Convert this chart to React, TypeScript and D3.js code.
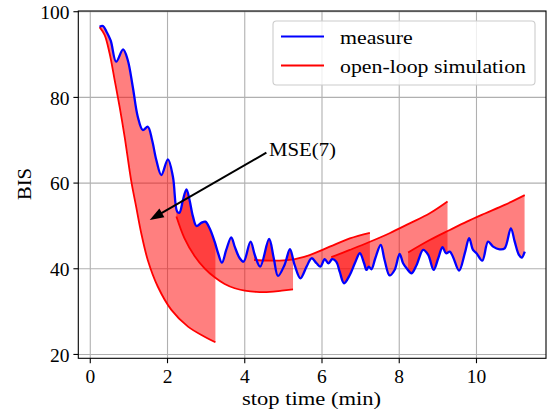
import React from "react";
import * as d3 from "d3";

const W = 551;
const H = 417;

const xTicks = [0, 2, 4, 6, 8, 10];
const yTicks = [20, 40, 60, 80, 100];

const measureTime = [0.24, 0.33, 0.42, 0.53, 0.67, 0.85, 0.97, 1.1, 1.23, 1.36, 1.49, 1.6, 1.71, 1.84, 2.01, 2.14, 2.25, 2.31, 2.4, 2.49, 2.57, 2.66, 2.75, 2.88, 2.98, 3.09, 3.22, 3.31, 3.41, 3.52, 3.65, 3.74, 3.87, 3.97, 4.15, 4.26, 4.4, 4.63, 4.75, 4.86, 5.03, 5.17, 5.29, 5.44, 5.6, 5.73, 5.86, 5.96, 6.07, 6.17, 6.26, 6.37, 6.46, 6.57, 6.72, 6.85, 6.98, 7.09, 7.15, 7.21, 7.28, 7.38, 7.52, 7.62, 7.75, 7.88, 8.01, 8.1, 8.19, 8.32, 8.45, 8.62, 8.75, 8.89, 9.01, 9.12, 9.21, 9.31, 9.39, 9.55, 9.7, 9.81, 9.91, 10.0, 10.15, 10.3, 10.43, 10.6, 10.73, 10.89, 10.99, 11.1, 11.17, 11.25];
const measureBIS = [96.5, 96.66, 95.33, 93.23, 88.33, 91.23, 88.73, 82.5, 75.5, 72.39, 73.16, 70.06, 65.39, 61.89, 65.55, 61.49, 53.33, 53.09, 56.06, 58.55, 56.06, 52.16, 49.99, 50.76, 50.99, 49.45, 46.32, 43.62, 41.42, 44.39, 47.35, 45.16, 42.45, 41.66, 46.32, 43.22, 40.49, 46.95, 42.52, 38.32, 40.89, 44.55, 40.89, 37.78, 40.49, 42.45, 41.28, 40.49, 42.22, 41.28, 42.22, 41.66, 39.25, 36.62, 38.55, 41.28, 43.62, 41.28, 39.72, 40.49, 39.88, 42.45, 45.55, 42.05, 38.44, 39.72, 43.45, 41.28, 40.12, 38.95, 40.89, 44.39, 43.22, 39.72, 42.45, 45.02, 43.62, 43.99, 42.82, 39.56, 43.69, 47.12, 44.39, 43.62, 41.89, 46.32, 45.16, 44.55, 44.78, 49.45, 46.32, 43.22, 42.59, 43.99];

type P = [number, number];
const sim1: P[] = [[0.24, 96.4], [0.37, 94.6], [0.5, 90.3], [0.63, 84.1], [0.76, 77.8], [0.89, 70.8], [1.06, 60.5], [1.19, 54.4], [1.32, 48.3], [1.49, 42.0], [1.75, 35.8], [2.1, 30.4], [2.53, 26.5], [2.96, 24.15], [3.24, 22.85]];
const sim2: P[] = [[2.23, 52.2], [2.44, 47.1], [2.7, 43.0], [2.96, 40.1], [3.22, 38.0], [3.48, 36.45], [3.74, 35.45], [4.0, 34.9], [4.3, 34.6], [4.65, 34.6], [4.96, 34.9], [5.25, 35.2]];
const sim3: P[] = [[4.24, 42.05], [4.65, 41.9], [5.16, 42.05], [5.68, 43.2], [6.2, 45.15], [6.72, 47.1], [7.24, 48.4]];
const sim4: P[] = [[6.24, 42.7], [6.72, 44.4], [7.24, 46.3], [7.75, 48.3], [8.27, 50.6], [8.79, 52.95], [9.25, 55.7]];
const sim5: P[] = [[8.23, 43.8], [8.79, 46.7], [9.31, 49.05], [9.75, 51.0], [10.22, 52.9], [10.73, 54.9], [11.25, 57.2]];
const simulations = [sim1, sim2, sim3, sim4, sim5];

const arrowTip: P = [1.54, 51.4];
const arrowStart: P = [4.56, 67.1];
const labelPos: P = [4.627, 66.3];

const FONT = "Liberation Serif, DejaVu Serif, serif";

export default function App() {
  const L = 78.3, R = 546, T = 11, B = 358.3;
  const x = d3.scaleLinear().domain([-0.31, 11.8]).range([L, R]);
  const y = d3.scaleLinear().domain([19.1, 100.17]).range([B, T]);
  const curve = d3.curveCatmullRom.alpha(0.5);
  const line = d3.line<P>().x((d) => x(d[0])).y((d) => y(d[1])).curve(curve);
  const pts: P[] = measureTime.map((t, i) => [t, measureBIS[i]]);
  const n = pts.length;

  const fills = simulations.map((sim) => {
    const start = sim[0][0];
    const end = sim[sim.length - 1][0];
    let iS = 0;
    for (let i = 0; i < n; i++) if (pts[i][0] <= start) iS = i;
    let iE = n - 1;
    for (let i = n - 1; i >= 0; i--) if (pts[i][0] >= end) iE = i;
    const a = Math.max(0, iS - 1);
    const b = Math.min(n - 1, iE + 1);
    const sub = pts.slice(a, b + 1);
    const blueD = line(sub) || "";
    const redD = (line(sim.slice().reverse()) || "").replace(/^M/, "L");
    const tPost = Math.max(sub[sub.length - 1][0], end);
    const tPre = Math.min(sub[0][0], start);
    const d =
      blueD +
      `L${x(tPost)},${y(sim[sim.length - 1][1])}` +
      redD +
      `L${x(tPre)},${y(sim[0][1])}Z`;
    return { d, x0: x(start), x1: x(end) };
  });

  const tx = x(arrowTip[0]), ty = y(arrowTip[1]);
  const sx = x(arrowStart[0]), sy = y(arrowStart[1]);
  const len = Math.hypot(tx - sx, ty - sy);
  const ux = (tx - sx) / len, uy = (ty - sy) / len;
  const headL = 14, headW = 10;
  const bx = tx - ux * headL, by = ty - uy * headL;
  const nx = -uy, ny = ux;
  const head = `M${tx},${ty}L${bx + nx * headW / 2},${by + ny * headW / 2}L${bx - nx * headW / 2},${by - ny * headW / 2}Z`;

  return (
    <svg width={W} height={H} style={{ position: "absolute", left: 0, top: 0, background: "#fff" }}>
      <defs>
        <clipPath id="plot">
          <rect x={L} y={T} width={R - L} height={B - T} />
        </clipPath>
        {fills.map((f, i) => (
          <clipPath id={`seg${i}`} key={i}>
            <rect x={f.x0} y={T} width={f.x1 - f.x0} height={B - T} />
          </clipPath>
        ))}
      </defs>
      <rect x={0} y={0} width={W} height={H} fill="#fff" />
      <g stroke="#b0b0b0" strokeWidth={1.1}>
        {xTicks.map((t) => (
          <line key={`gx${t}`} x1={x(t)} x2={x(t)} y1={T} y2={B} />
        ))}
        {yTicks.map((t) => (
          <line key={`gy${t}`} x1={L} x2={R} y1={y(t)} y2={y(t)} />
        ))}
      </g>
      <g clipPath="url(#plot)">
        {fills.map((f, i) => (
          <path key={i} d={f.d} fill="#ff0000" fillOpacity={0.5} clipPath={`url(#seg${i})`} />
        ))}
        {simulations.map((sim, i) => (
          <path key={i} d={line(sim) || ""} fill="none" stroke="#ff0000" strokeWidth={1.8} />
        ))}
        <path d={line(pts) || ""} fill="none" stroke="#0000ff" strokeWidth={2.3} strokeLinejoin="round" />
      </g>
      <line x1={sx} y1={sy} x2={bx + ux * 2} y2={by + uy * 2} stroke="#000" strokeWidth={2} />
      <path d={head} fill="#000" />
      <text x={x(labelPos[0])} y={y(labelPos[1])} fontFamily={FONT} fontSize={19.5} textLength={67} lengthAdjust="spacingAndGlyphs">
        MSE(7)
      </text>
      <rect x={L} y={T} width={R - L} height={B - T} fill="none" stroke="#000" strokeWidth={1.1} />
      <g stroke="#000" strokeWidth={1.1}>
        {xTicks.map((t) => (
          <line key={`tx${t}`} x1={x(t)} x2={x(t)} y1={B} y2={B + 4.9} />
        ))}
        {yTicks.map((t) => (
          <line key={`ty${t}`} x1={L - 4.9} x2={L} y1={y(t)} y2={y(t)} />
        ))}
      </g>
      <g fontFamily={FONT} fontSize={19.5} fill="#000">
        {xTicks.map((t) => (
          <text key={`lx${t}`} x={x(t)} y={382.7} textAnchor="middle">
            {t}
          </text>
        ))}
        {yTicks.map((t) => (
          <text key={`ly${t}`} x={69.5} y={y(t) + 7.3} textAnchor="end">
            {t}
          </text>
        ))}
        <text x={311.5} y={404.5} textAnchor="middle" textLength={139} lengthAdjust="spacingAndGlyphs">
          stop time (min)
        </text>
        <text transform="translate(31,184) rotate(-90)" textAnchor="middle" textLength={32} lengthAdjust="spacingAndGlyphs">
          BIS
        </text>
      </g>
      <g>
        <rect x={273} y={21} width={262} height={64} rx={3.5} fill="#fff" fillOpacity={0.8} stroke="#cccccc" strokeWidth={1.1} />
        <line x1={281} x2={324} y1={36.5} y2={36.5} stroke="#0000ff" strokeWidth={2.1} />
        <line x1={281} x2={324} y1={65.5} y2={65.5} stroke="#ff0000" strokeWidth={2.1} />
        <text x={340} y={44.3} fontFamily={FONT} fontSize={19.5} textLength={72.7} lengthAdjust="spacingAndGlyphs">
          measure
        </text>
        <text x={340} y={72.7} fontFamily={FONT} fontSize={19.5} textLength={186} lengthAdjust="spacingAndGlyphs">
          open-loop simulation
        </text>
      </g>
    </svg>
  );
}
